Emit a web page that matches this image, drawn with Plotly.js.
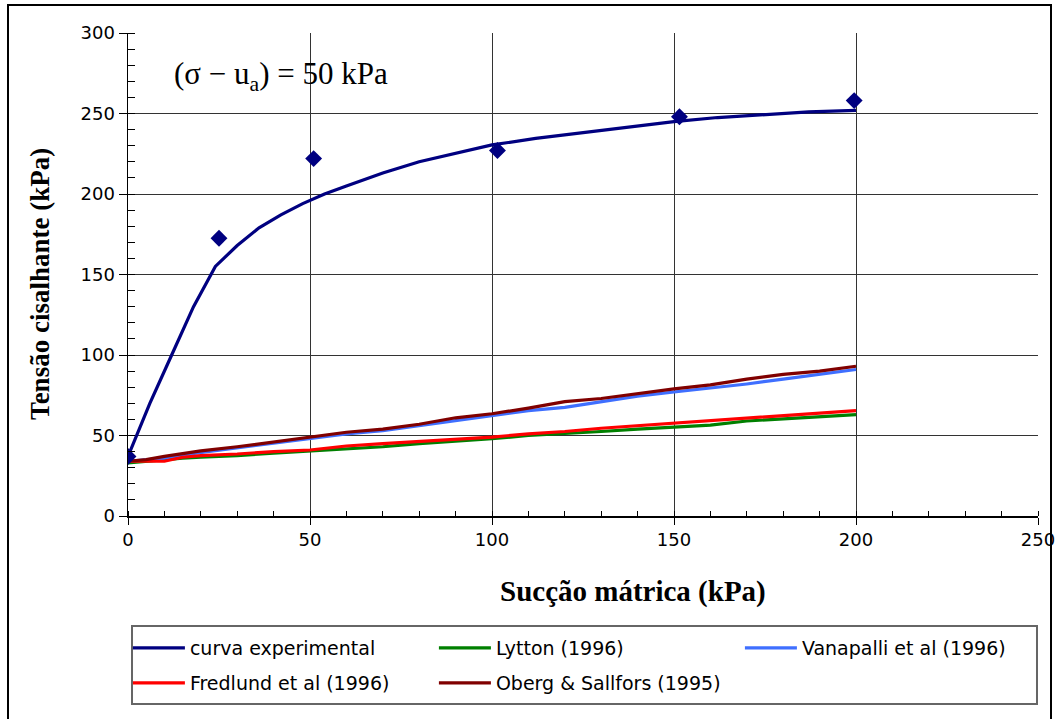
<!DOCTYPE html>
<html>
<head>
<meta charset="utf-8">
<script src="https://cdn.plot.ly/plotly-3.0.1.min.js"></script>
<style>
  html, body { margin: 0; padding: 0; background: #fff; overflow: hidden; }
  #chart { width: 1057px; height: 719px; position: absolute; left: 0; top: 0; }
  #frame { position: absolute; left: 7px; top: 4px; width: 1041px; height: 760px;
           border: 2px solid #000; pointer-events: none; }
</style>
</head>
<body>
<div id="chart"></div>
<div id="frame"></div>
<script>
// Experimental data points (matric suction vs shear stress)
const expX = [0, 25, 51, 101.5, 151.5, 199.5];
const expY = [37, 172.5, 222, 227, 248, 258];

// Fitted experimental curve
const curveX = [0, 6, 12, 18, 24, 30, 36, 42, 48, 54, 60, 70, 80, 90, 100, 112, 125, 137, 150, 162, 175, 187, 200];
const curveY = [37, 70, 100, 130, 155, 168, 179, 187, 194, 200, 205, 213, 220, 225.5, 230.5, 234.5, 238, 241.5, 245, 247.5, 249.5, 251, 252];

// Model predictions
const modelX = [0, 5, 10, 15, 20, 30, 40, 50, 60, 70, 80, 90, 100, 110, 120, 130, 140, 150, 160, 170, 180, 190, 200];
const lyttonY    = [33, 34, 35, 36, 36.5, 37.5, 39, 40.5, 42, 43, 45, 46.5, 48, 50, 51, 52.5, 54, 55.5, 56.5, 59, 60.5, 61.5, 63];
const vanapalliY = [34, 35, 36, 38, 39.5, 42, 45, 48, 51, 53, 56, 59.5, 62.5, 65.5, 67.5, 71, 74.5, 77, 79.5, 82, 85, 88, 91];
const fredlundY  = [34, 34, 34, 36.5, 37.5, 38.5, 40, 41, 43.5, 45, 46.5, 47.5, 49, 51, 52.5, 54.5, 56, 57.5, 59, 60.5, 62, 63.5, 65.5];
const obergY     = [34, 35, 37, 39, 40.5, 43, 46, 49, 52, 54, 57, 61, 63.5, 67, 71, 73, 76, 79, 81.5, 85, 88, 90, 93];

const names = ["curva experimental", "Lytton (1996)", "Vanapalli et al (1996)", "Fredlund et al (1996)", "Oberg & Sallfors (1995)"];
const colors = ["#000080", "#008000", "#3f6fff", "#ff0000", "#800000"];
const legendRow = ["legend", "legend", "legend", "legend2", "legend2"];

const xTicks = [0, 50, 100, 150, 200, 250];
const yTicks = [0, 50, 100, 150, 200, 250, 300];

const xTitle = "Sucção mátrica (kPa)";
const yTitle = "Tensão cisalhante (kPa)";

const lw = 3.2;
const traces = [curveX, modelX, modelX, modelX, modelX].map((xs, i) => ({
  x: xs,
  y: [curveY, lyttonY, vanapalliY, fredlundY, obergY][i],
  name: names[i], mode: "lines", legend: legendRow[i],
  line: { color: colors[i], width: lw }
}));
traces.push({ x: expX, y: expY, name: "experimental", mode: "markers", showlegend: false,
  marker: { symbol: "diamond", size: 13, color: "#000080" } });

const tickFont = { family: "DejaVu Sans, Arial, sans-serif", size: 18, color: "#000" };
const legFont = { family: "DejaVu Sans, Arial, sans-serif", size: 19, color: "#000" };
const serif = "Liberation Serif, Times New Roman, serif";

const legendBase = {
  orientation: "h", x: -0.0001, xanchor: "left", yanchor: "middle",
  borderwidth: 0, bgcolor: "rgba(0,0,0,0)", font: legFont,
  entrywidth: 239, entrywidthmode: "pixels", traceorder: "normal", itemwidth: 52
};

const layout = {
  width: 1057, height: 719,
  margin: { l: 128, r: 19, t: 33, b: 203 },
  paper_bgcolor: "#fff", plot_bgcolor: "#fff",
  showlegend: true,
  xaxis: {
    range: [0, 250], tickvals: xTicks, ticktext: xTicks.map(String),
    showgrid: true, gridcolor: "#333", gridwidth: 1,
    showline: true, linecolor: "#000", linewidth: 1.5, zeroline: false,
    ticks: "outside", ticklen: 7, tickcolor: "#000", tickwidth: 1,
    minor: { ticks: "inside", dtick: 10, ticklen: 5, tickcolor: "#000", showgrid: false },
    tickfont: tickFont, automargin: false, fixedrange: true
  },
  yaxis: {
    range: [0, 300], tickvals: yTicks, ticktext: yTicks.map(String),
    showgrid: true, gridcolor: "#333", gridwidth: 1,
    showline: true, linecolor: "#000", linewidth: 1.5, zeroline: false,
    ticks: "outside", ticklen: 8, tickcolor: "#000", tickwidth: 1,
    minor: { ticks: "inside", dtick: 10, ticklen: 7, tickcolor: "#000", showgrid: false },
    tickfont: tickFont, automargin: false, fixedrange: true
  },
  legend: Object.assign({}, legendBase, { y: -0.2733 }),
  legend2: Object.assign({}, legendBase, { y: -0.3458 }),
  shapes: [{
    type: "rect", xref: "paper", yref: "paper",
    x0: 0.0044, x1: 0.9989, y0: -0.3892, y1: -0.2277,
    line: { color: "#666", width: 2 }, fillcolor: "rgba(0,0,0,0)", layer: "above"
  }],
  annotations: [
    { xref: "paper", yref: "paper", x: 0.048, y: 0.91, xanchor: "left", yanchor: "middle",
      text: "(σ − u<sub>a</sub>) = 50 kPa", showarrow: false,
      font: { family: serif, size: 31, color: "#000" } },
    { xref: "paper", yref: "paper", x: 0.555, y: -0.157, xanchor: "center", yanchor: "middle",
      text: "<b>" + xTitle + "</b>", showarrow: false,
      font: { family: serif, size: 29, color: "#000" } },
    { xref: "paper", yref: "paper", x: -0.097, y: 0.480, xanchor: "center", yanchor: "middle",
      text: "<b>" + yTitle + "</b>", showarrow: false, textangle: -90,
      font: { family: serif, size: 27, color: "#000" } }
  ]
};

Plotly.newPlot("chart", traces, layout, { displayModeBar: false, staticPlot: true });
</script>
</body>
</html>
